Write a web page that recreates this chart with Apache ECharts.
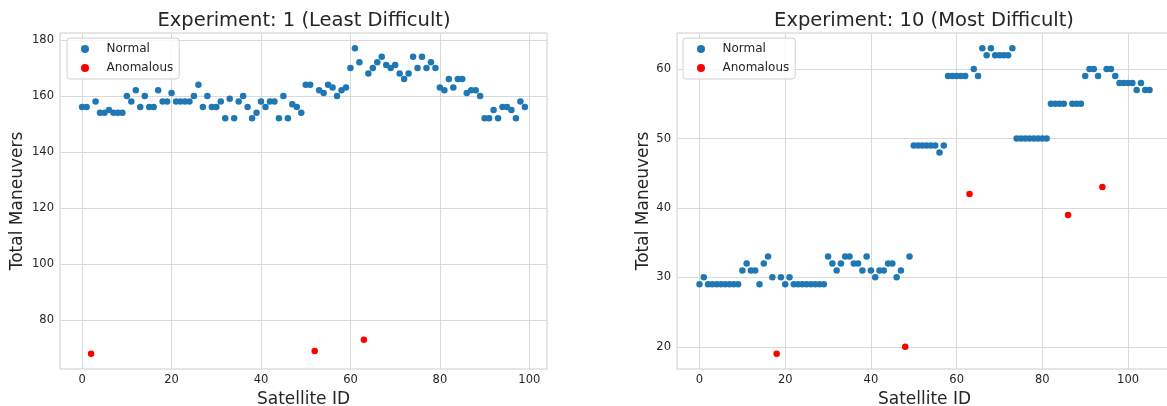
<!DOCTYPE html>
<html>
<head>
<meta charset="utf-8">
<script src="https://cdn.jsdelivr.net/npm/echarts@6/dist/echarts.min.js"></script>
<style>
  html, body { margin: 0; padding: 0; background: #fff; }
  #main { width: 1167px; height: 406px; }
</style>
</head>
<body>
<div id="main"></div>
<script>
// total maneuvers per satellite, index = satellite id
var exp1Values = [
    156, 156, 68, 158, 154, 154, 155, 154, 154, 154,
    160, 158, 162, 156, 160, 156, 156, 162, 158, 158,
    161, 158, 158, 158, 158, 160, 164, 156, 160, 156,
    156, 158, 152, 159, 152, 158, 160, 156, 152, 154,
    158, 156, 158, 158, 152, 160, 152, 157, 156, 154,
    164, 164, 69, 162, 161, 164, 163, 160, 162, 163,
    170, 177, 172, 73, 168, 170, 172, 174, 171, 170,
    171, 168, 166, 168, 174, 170, 174, 170, 172, 170,
    163, 162, 166, 163, 166, 166, 161, 162, 162, 160,
    152, 152, 155, 152, 156, 156, 155, 152, 158, 156
];
var exp1Anomalies = [2, 52, 63];

var exp10Values = [
    29, 30, 29, 29, 29, 29, 29, 29, 29, 29,
    31, 32, 31, 31, 29, 32, 33, 30, 19, 30,
    29, 30, 29, 29, 29, 29, 29, 29, 29, 29,
    33, 32, 31, 32, 33, 33, 32, 32, 31, 33,
    31, 30, 31, 31, 32, 32, 30, 31, 20, 33,
    49, 49, 49, 49, 49, 49, 48, 49, 59, 59,
    59, 59, 59, 42, 60, 59, 63, 62, 63, 62,
    62, 62, 62, 63, 50, 50, 50, 50, 50, 50,
    50, 50, 55, 55, 55, 55, 39, 55, 55, 55,
    59, 60, 60, 59, 43, 60, 60, 59, 58, 58,
    58, 58, 57, 58, 57, 57
];
var exp10Anomalies = [18, 48, 63, 86, 94];

var xTicks = [0, 20, 40, 60, 80, 100];
var yTicks1 = [80, 100, 120, 140, 160, 180];
var yTicks10 = [20, 30, 40, 50, 60];

var titles = ['Experiment: 1 (Least Difficult)', 'Experiment: 10 (Most Difficult)'];

function splitPoints(values, anomalies, wantAnomaly) {
    var out = [];
    values.forEach(function (v, i) {
        var isAnom = anomalies.indexOf(i) >= 0;
        if (isAnom === wantAnomaly) out.push([i, v]);
    });
    return out;
}

var txt = '#262626';
var gridCol = '#d9d9d9';
var font = 'DejaVu Sans';

function xAxisFor(idx, max, min) {
    return {
        gridIndex: idx,
        type: 'value',
        min: min,
        max: max,
        name: 'Satellite ID',
        nameLocation: 'middle',
        nameGap: 21,
        nameTextStyle: { fontFamily: font, fontSize: 17, color: txt },
        axisLine: { show: false },
        axisTick: { show: false, customValues: xTicks },
        axisLabel: { customValues: xTicks, margin: 5, fontFamily: font, fontSize: 11.5, color: txt },
        splitLine: { show: true, lineStyle: { color: gridCol, width: 1 } }
    };
}

function yAxisFor(idx, min, max, ticks, gap) {
    return {
        gridIndex: idx,
        type: 'value',
        min: min,
        max: max,
        name: 'Total Maneuvers',
        nameLocation: 'middle',
        nameGap: gap,
        nameTextStyle: { fontFamily: font, fontSize: 17, color: txt },
        axisLine: { show: false },
        axisTick: { show: false, customValues: ticks },
        axisLabel: { customValues: ticks, margin: 6, fontFamily: font, fontSize: 11.5, color: txt },
        splitLine: { show: true, lineStyle: { color: gridCol, width: 1 } }
    };
}

function legendFor(left) {
    return {
        left: left,
        top: 38,
        orient: 'vertical',
        data: ['Normal', 'Anomalous'],
        icon: 'circle',
        itemWidth: 33,
        itemHeight: 8,
        itemGap: 7,
        padding: [5, 6, 5, 14],
        backgroundColor: 'rgba(255,255,255,0.8)',
        borderColor: '#d0d0d0',
        borderWidth: 1,
        borderRadius: 3,
        textStyle: { fontFamily: font, fontSize: 12, color: txt }
    };
}

var dom = document.getElementById('main');
var myChart = echarts.init(dom, null, { renderer: 'canvas' });

var option = {
    animation: false,
    backgroundColor: '#fff',
    title: [
        { text: titles[0], left: 299, top: 6, textAlign: 'center',
          textStyle: { fontFamily: font, fontSize: 19.5, fontWeight: 'normal', color: txt } },
        { text: titles[1], left: 919, top: 6, textAlign: 'center',
          textStyle: { fontFamily: font, fontSize: 19.5, fontWeight: 'normal', color: txt } }
    ],
    legend: [legendFor(67), legendFor(683)],
    grid: [
        { left: 60, top: 33, width: 487, height: 336, show: true, borderColor: '#cccccc', borderWidth: 1,
          containLabel: false, outerBoundsMode: 'none' },
        { left: 677, top: 33, width: 495, height: 336, show: true, borderColor: '#cccccc', borderWidth: 1,
          containLabel: false, outerBoundsMode: 'none' }
    ],
    xAxis: [
        xAxisFor(0, 103.95, -4.95),
        xAxisFor(1, 110.25, -5.25)
    ],
    yAxis: [
        yAxisFor(0, 62.55, 182.45, yTicks1, 34),
        yAxisFor(1, 16.8, 65.2, yTicks10, 24)
    ],
    series: [
        { name: 'Normal', type: 'scatter', xAxisIndex: 0, yAxisIndex: 0, symbolSize: 6.5,
          itemStyle: { color: '#1f77b4', opacity: 1 }, data: splitPoints(exp1Values, exp1Anomalies, false) },
        { name: 'Anomalous', type: 'scatter', xAxisIndex: 0, yAxisIndex: 0, symbolSize: 6.5,
          itemStyle: { color: '#ff0000', opacity: 1 }, data: splitPoints(exp1Values, exp1Anomalies, true) },
        { name: 'Normal', type: 'scatter', xAxisIndex: 1, yAxisIndex: 1, symbolSize: 6.5,
          itemStyle: { color: '#1f77b4', opacity: 1 }, data: splitPoints(exp10Values, exp10Anomalies, false) },
        { name: 'Anomalous', type: 'scatter', xAxisIndex: 1, yAxisIndex: 1, symbolSize: 6.5,
          itemStyle: { color: '#ff0000', opacity: 1 }, data: splitPoints(exp10Values, exp10Anomalies, true) }
    ]
};

if (option && typeof option === "object") {
    myChart.setOption(option, true);
}
</script>
</body>
</html>
